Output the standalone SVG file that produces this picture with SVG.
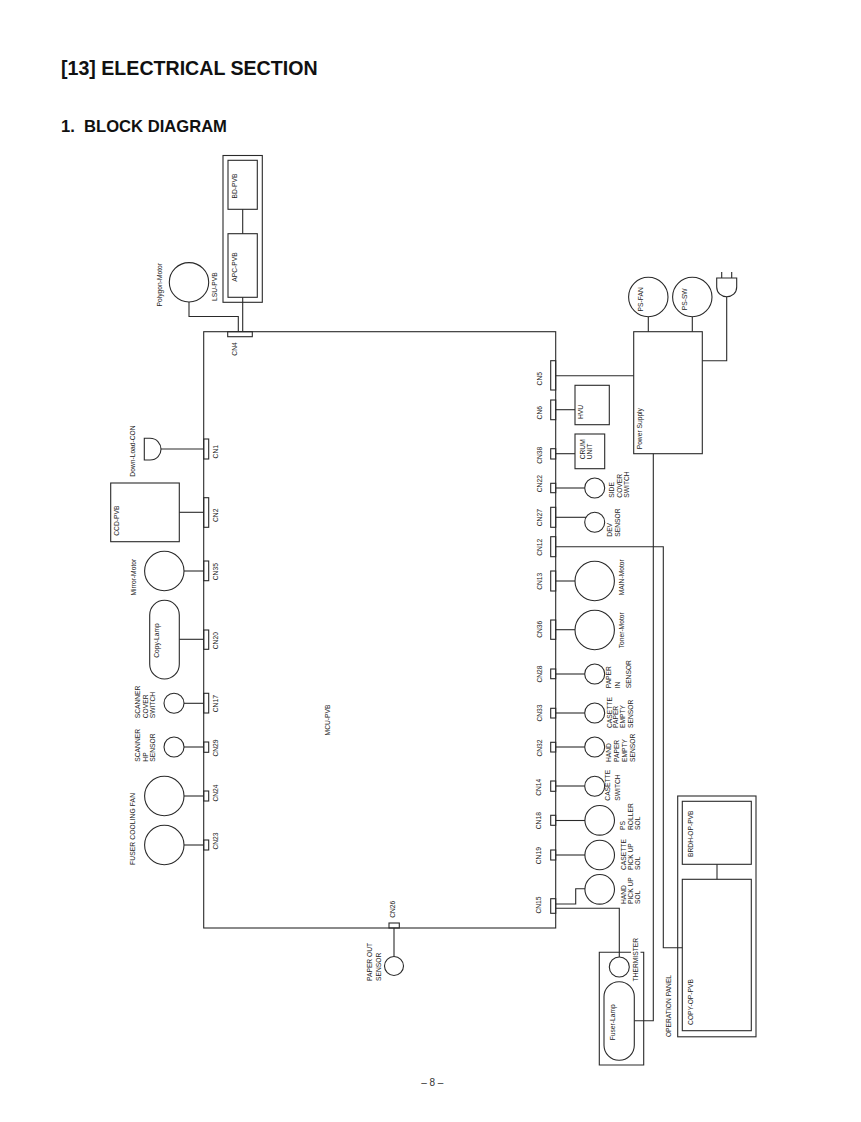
<svg xmlns="http://www.w3.org/2000/svg" width="861" height="1122" viewBox="0 0 861 1122">
<style>
text{font-family:"Liberation Sans",Arial,sans-serif;fill:#222;font-size:6.7px}
.h1{font-size:19.6px;font-weight:bold;fill:#111}
.h2{font-size:16.6px;font-weight:bold;fill:#111;white-space:pre}
.pg{font-size:10px;text-anchor:middle;fill:#333}
.c{text-anchor:middle}
rect,circle,path.s{fill:none;stroke:#2a2a2a;stroke-width:1.1}
#connectors path{fill:none;stroke:#2a2a2a;stroke-width:1.1}
</style>
<rect x="0" y="0" width="861" height="1122" style="fill:#fff;stroke:none"/>
<text class="h1" x="61" y="75">[13] ELECTRICAL SECTION</text>
<text class="h2" x="61" y="131.7">1.  BLOCK DIAGRAM</text>
<text class="pg" x="432.3" y="1086">– 8 –</text>

<g id="connectors">
<path d="M242.7 209.3V233.7M242.7 297.3V331.7"/>
<path d="M189 302V316.5H238.3V331.7"/>
<path d="M161 449H203.7"/>
<path d="M179.3 512.3H203.7"/>
<path d="M184 571H203.7"/>
<path d="M179.3 639.3H203.7"/>
<path d="M184 703.3H203.7"/>
<path d="M184 747H203.7"/>
<path d="M184 796H203.7"/>
<path d="M184 845H203.7"/>
<path d="M394 928V956.5"/>
<path d="M555.7 375.7H633.7"/>
<path d="M555.7 409.7H575"/>
<path d="M555.7 453.7H575"/>
<path d="M555.7 488H584.7"/>
<path d="M555.7 517.3H586"/>
<path d="M555.7 581H575"/>
<path d="M555.7 629.7H575"/>
<path d="M555.7 674H584.7"/>
<path d="M555.7 713H584.7"/>
<path d="M555.7 747H584.7"/>
<path d="M555.7 786H584.7"/>
<path d="M555.7 820.5H585"/>
<path d="M555.7 855H585"/>
<path d="M555.7 904H575.7V888.7H585"/>
<path d="M555.7 908.3H619.3V957"/>
<path d="M648.3 316.7V331.7M692.3 316.7V331.7"/>
<path d="M726.7 296.7V360.7H702.3"/>
<path d="M653.3 453.7V1020.7H634.3"/>
<path d="M555.7 546.7H663.3V947.7H682.3"/>
<path d="M717 864.3V879.3"/>
</g>

<g id="mcu"><rect x="203.7" y="331.7" width="352" height="596.3"/><text class="c" transform="translate(0,720) rotate(-90)" y="330">MCU-PVB</text></g>

<g id="lsu"><rect x="223" y="155.5" width="39.3" height="146.8"/><text class="c" transform="translate(0,286.7) rotate(-90)" y="217.3">LSU-PVB</text></g>
<g id="bd"><rect x="228" y="160.3" width="29.3" height="49"/><text class="c" transform="translate(0,186) rotate(-90)" y="237.3">BD-PVB</text></g>
<g id="apc"><rect x="228" y="233.7" width="29.3" height="63.6"/><text class="c" transform="translate(0,267) rotate(-90)" y="237.3">APC-PVB</text></g>
<g id="polygon-motor"><circle cx="189" cy="282.3" r="19.7"/><text class="c" transform="translate(0,284.7) rotate(-90)" y="162.3">Polygon-Motor</text></g>
<g id="cn4"><rect x="227.7" y="331.7" width="24.6" height="5"/><text class="c" transform="translate(0,349) rotate(-90)" y="237.3">CN4</text></g>

<g id="cn1"><rect x="203.7" y="439" width="5" height="20"/><text class="c" transform="translate(0,451.7) rotate(-90)" y="218.3">CN1</text></g>
<g id="download-con"><path class="s" d="M144.3 438.3H150C157 438.3 161 444 161 449.2C161 454.5 157 460 150 460H144.3Z"/><text class="c" transform="translate(0,451) rotate(-90)" y="135">Down-Load-CON</text></g>
<g id="cn2"><rect x="203.7" y="497.7" width="5" height="29.6"/><text class="c" transform="translate(0,515.3) rotate(-90)" y="218">CN2</text></g>
<g id="ccd"><rect x="110.7" y="483" width="68.6" height="58.7"/><text class="c" transform="translate(0,520.7) rotate(-90)" y="119.3">CCD-PVB</text></g>
<g id="cn35"><rect x="203.7" y="561" width="5" height="19.7"/><text class="c" transform="translate(0,571.7) rotate(-90)" y="218">CN35</text></g>
<g id="mirror-motor"><circle cx="164.3" cy="571" r="19.7"/><text class="c" transform="translate(0,577.2) rotate(-90)" y="135.7">Mirror-Motor</text></g>
<g id="cn20"><rect x="203.7" y="630" width="5" height="19.3"/><text class="c" transform="translate(0,640.7) rotate(-90)" y="218">CN20</text></g>
<g id="copy-lamp"><rect x="149.7" y="600.3" width="29.6" height="78.7" rx="14.8" ry="14.8"/><text class="c" transform="translate(0,640.5) rotate(-90)" y="159.3">Copy-Lamp</text></g>
<g id="cn17"><rect x="203.7" y="693.3" width="5" height="19.7"/><text class="c" transform="translate(0,703.7) rotate(-90)" y="218">CN17</text></g>
<g id="scanner-cover"><circle cx="174" cy="703.3" r="10"/><text transform="translate(0,718.3) rotate(-90)"><tspan x="0" y="140.3">SCANNER</tspan><tspan x="0" y="147.7">COVER</tspan><tspan x="0" y="155.3">SWITCH</tspan></text></g>
<g id="cn29"><rect x="203.7" y="742" width="5" height="10.3"/><text class="c" transform="translate(0,748) rotate(-90)" y="218">CN29</text></g>
<g id="scanner-hp"><circle cx="174" cy="747" r="10"/><text transform="translate(0,761.7) rotate(-90)"><tspan x="0" y="140.3">SCANNER</tspan><tspan x="0" y="147.7">HP</tspan><tspan x="0" y="155.3">SENSOR</tspan></text></g>
<g id="cn24"><rect x="203.7" y="791" width="5" height="10"/><text class="c" transform="translate(0,793) rotate(-90)" y="218">CN24</text></g>
<g id="fan1"><circle cx="164.3" cy="796" r="19.7"/></g>
<g id="cn23"><rect x="203.7" y="840" width="5" height="10"/><text class="c" transform="translate(0,841) rotate(-90)" y="218">CN23</text></g>
<g id="fan2"><circle cx="164.3" cy="845" r="19.7"/><text class="c" transform="translate(0,829) rotate(-90)" y="135.3" textLength="72">FUSER COOLING FAN</text></g>
<g id="cn26"><rect x="389" y="923" width="10.3" height="5"/><text class="c" transform="translate(0,909.3) rotate(-90)" y="395">CN26</text></g>
<g id="paper-out"><circle cx="394" cy="966" r="9.5"/><text transform="translate(0,981) rotate(-90)"><tspan x="0" y="372.3">PAPER OUT</tspan><tspan x="0" y="381.3">SENSOR</tspan></text></g>

<g id="cn5"><rect x="550.7" y="360.7" width="5" height="29.3"/><text class="c" transform="translate(0,378.7) rotate(-90)" y="541.7">CN5</text></g>
<g id="power-supply"><rect x="633.7" y="331.7" width="68.6" height="122"/><text class="c" transform="translate(0,428.7) rotate(-90)" y="642.3">Power Supply</text></g>
<g id="ps-fan"><circle cx="648.3" cy="297" r="19.7"/><text class="c" transform="translate(0,299.3) rotate(-90)" y="643.3">PS-FAN</text></g>
<g id="ps-sw"><circle cx="692.3" cy="297" r="19.7"/><text class="c" transform="translate(0,299.3) rotate(-90)" y="687.3">PS-SW</text></g>
<g id="plug"><path class="s" d="M716.7 278H736.7V287C736.7 293 732 296.7 726.7 296.7C721.5 296.7 716.7 293 716.7 287ZM721.7 272V278M731.7 272V278"/></g>
<g id="cn6"><rect x="550.7" y="400" width="5" height="19.7"/><text class="c" transform="translate(0,412.7) rotate(-90)" y="541.7">CN6</text></g>
<g id="hvu"><rect x="575" y="385.3" width="34.3" height="39.4"/><text class="c" transform="translate(0,412) rotate(-90)" y="582.7">HVU</text></g>
<g id="cn38"><rect x="550.7" y="448.7" width="5" height="10.3"/><text class="c" transform="translate(0,455.3) rotate(-90)" y="541.7">CN38</text></g>
<g id="crum"><rect x="575" y="434" width="29.7" height="34.7"/><text transform="translate(0,459.3) rotate(-90)"><tspan x="0" y="585.3">CRUM</tspan><tspan x="0" y="592.3">UNIT</tspan></text></g>
<g id="cn22"><rect x="550.7" y="483.3" width="5" height="9.4"/><text class="c" transform="translate(0,483.7) rotate(-90)" y="541.7">CN22</text></g>
<g id="side-cover"><circle cx="594.7" cy="488" r="10"/><text transform="translate(0,497.7) rotate(-90)"><tspan x="0" y="614">SIDE</tspan><tspan x="0" y="621.7">COVER</tspan><tspan x="0" y="629.3">SWITCH</tspan></text></g>
<g id="cn27"><rect x="550.7" y="507.3" width="5" height="20"/><text class="c" transform="translate(0,517.7) rotate(-90)" y="541.7">CN27</text></g>
<g id="dev-sensor"><circle cx="594.7" cy="522.3" r="10"/><text transform="translate(0,536.7) rotate(-90)"><tspan x="0" y="612.3">DEV</tspan><tspan x="0" y="620">SENSOR</tspan></text></g>
<g id="cn12"><rect x="550.7" y="536.7" width="5" height="20"/><text class="c" transform="translate(0,547.3) rotate(-90)" y="541.7">CN12</text></g>
<g id="cn13"><rect x="550.7" y="571" width="5" height="20"/><text class="c" transform="translate(0,581.3) rotate(-90)" y="541.7">CN13</text></g>
<g id="main-motor"><circle cx="594.7" cy="581" r="19.7"/><text class="c" transform="translate(0,577.3) rotate(-90)" y="624">MAIN-Motor</text></g>
<g id="cn36"><rect x="550.7" y="620" width="5" height="19.3"/><text class="c" transform="translate(0,629.3) rotate(-90)" y="541.7">CN36</text></g>
<g id="toner-motor"><circle cx="594.7" cy="630" r="19.7"/><text class="c" transform="translate(0,630.3) rotate(-90)" y="624">Toner-Motor</text></g>
<g id="cn28"><rect x="550.7" y="669" width="5" height="9.7"/><text class="c" transform="translate(0,674) rotate(-90)" y="541.7">CN28</text></g>
<g id="paper-in"><circle cx="594.7" cy="674" r="10"/><text transform="translate(0,688.3) rotate(-90)"><tspan x="0" y="611.3">PAPER</tspan><tspan x="0" y="620">IN</tspan><tspan x="0" y="631.3">SENSOR</tspan></text></g>
<g id="cn33"><rect x="550.7" y="708.3" width="5" height="9.7"/><text class="c" transform="translate(0,713) rotate(-90)" y="541.7">CN33</text></g>
<g id="casette-paper"><circle cx="594.7" cy="713" r="10"/><text transform="translate(0,728) rotate(-90)"><tspan x="0" y="612.3">CASETTE</tspan><tspan x="0" y="618.3">PAPER</tspan><tspan x="0" y="625">EMPTY</tspan><tspan x="0" y="633.3">SENSOR</tspan></text></g>
<g id="cn32"><rect x="550.7" y="742.3" width="5" height="9.7"/><text class="c" transform="translate(0,748) rotate(-90)" y="541.7">CN32</text></g>
<g id="hand-paper"><circle cx="594.7" cy="747" r="10"/><text transform="translate(0,762) rotate(-90)"><tspan x="0" y="611">HAND</tspan><tspan x="0" y="618.7">PAPER</tspan><tspan x="0" y="626.7">EMPTY</tspan><tspan x="0" y="635">SENSOR</tspan></text></g>
<g id="cn14"><rect x="550.7" y="781" width="5" height="10.3"/><text class="c" transform="translate(0,787.3) rotate(-90)" y="541">CN14</text></g>
<g id="casette-switch"><circle cx="594.7" cy="786.3" r="10"/><text transform="translate(0,800.7) rotate(-90)"><tspan x="0" y="610.3">CASETTE</tspan><tspan x="0" y="620.3">SWITCH</tspan></text></g>
<g id="cn18"><rect x="550.7" y="815.3" width="5" height="10"/><text class="c" transform="translate(0,820.7) rotate(-90)" y="541">CN18</text></g>
<g id="ps-roller"><circle cx="599.7" cy="820.3" r="14.8"/><text transform="translate(0,830) rotate(-90)"><tspan x="0" y="625">PS</tspan><tspan x="0" y="632.7">ROLLER</tspan><tspan x="0" y="640">SOL</tspan></text></g>
<g id="cn19"><rect x="550.7" y="850" width="5" height="10"/><text class="c" transform="translate(0,855.7) rotate(-90)" y="541">CN19</text></g>
<g id="casette-pickup"><circle cx="599.7" cy="855" r="14.8"/><text transform="translate(0,870) rotate(-90)"><tspan x="0" y="625.7">CASETTE</tspan><tspan x="0" y="632.7">PICK UP</tspan><tspan x="0" y="640.3">SOL</tspan></text></g>
<g id="cn15"><rect x="550.7" y="898.7" width="5" height="14.6"/><text class="c" transform="translate(0,905) rotate(-90)" y="541">CN15</text></g>
<g id="hand-pickup"><circle cx="599.7" cy="889.3" r="14.8"/><text transform="translate(0,904) rotate(-90)"><tspan x="0" y="625.7">HAND</tspan><tspan x="0" y="632.7">PICK UP</tspan><tspan x="0" y="640.3">SOL</tspan></text></g>

<g id="fuser-box"><path class="s" d="M631 952.3H599.3V1065H643.7V952.3H640.5"/></g>
<g id="thermister"><circle cx="619.3" cy="967" r="10"/><text class="c" transform="translate(0,959.7) rotate(-90)" y="638.3">THERMISTER</text></g>
<g id="fuser-lamp"><rect x="604" y="981.7" width="30.3" height="78.6" rx="15" ry="15"/><text class="c" transform="translate(0,1022.3) rotate(-90)" y="614.7">Fuser-Lamp</text></g>

<g id="operation-panel"><rect x="677.7" y="796" width="78.3" height="240.8"/><text class="c" transform="translate(0,1006) rotate(-90)" y="671">OPERATION PANEL</text></g>
<g id="brdh-op"><rect x="682.3" y="801.3" width="69" height="63"/><text class="c" transform="translate(0,833.7) rotate(-90)" y="693.3">BRDH-OP-PVB</text></g>
<g id="copy-op"><rect x="682.3" y="879.3" width="69" height="151.4"/><text class="c" transform="translate(0,1002) rotate(-90)" y="693.3">COPY-OP-PVB</text></g>
</svg>
